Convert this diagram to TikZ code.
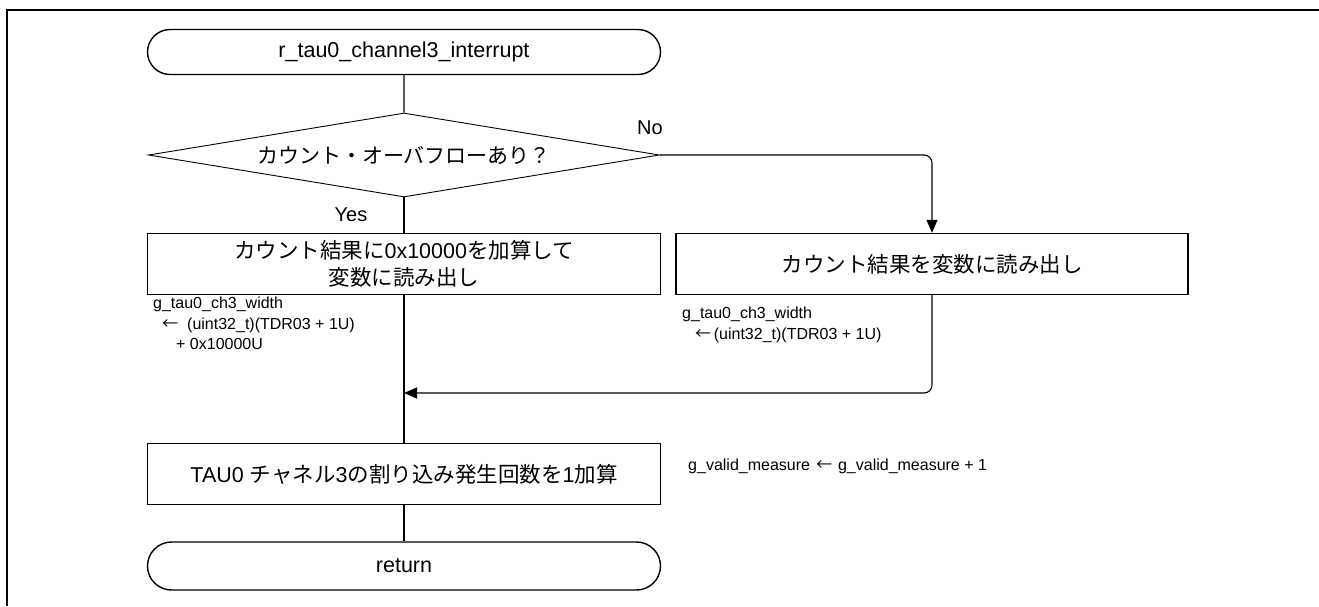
\documentclass[tikz,border=0pt]{standalone}
\usepackage{fontspec}
\setmainfont{Liberation Sans}
\newfontfamily\jp{Noto Sans CJK JP}
\usepackage{tikz}
\usetikzlibrary{shapes.geometric}
\usetikzlibrary{shapes.misc}
\usetikzlibrary{arrows.meta}

\begin{document}
\begin{tikzpicture}[x=1pt,y=-1pt,
	box/.style={draw,rectangle,line width=1.4pt,minimum width=513pt,minimum height=61pt,inner sep=0pt,align=center,font=\fontsize{21.5}{27}\selectfont},
	term/.style={draw,rounded rectangle,line width=1.4pt,minimum width=513pt,minimum height=45pt,inner sep=0pt,font=\fontsize{21.5}{27}\selectfont},
	decide/.style={draw,diamond,aspect=6,line width=0.9pt,minimum width=511pt,minimum height=84pt,inner sep=0pt,font=\fontsize{21}{27}\selectfont},
	note/.style={anchor=north west,inner sep=0pt,align=left,font=\fontsize{16}{20.5}\selectfont},
	flow/.style={line width=1.1pt},
	arr/.style={flow,-{Triangle[length=13pt,width=11pt]}}]
	\useasboundingbox (0,0) rectangle (1319,606);
	\draw[line width=2.2pt] (1319,10) -- (7,10) -- (7,606);

	\node (start) [term] at (404,52) {r\_tau0\_channel3\_interrupt};
	\node (check) [decide] at (404,155) {\jp カウント・オーバフローあり？};
	\node (addovf) [box] at (404,264) {{\jp カウント結果に}0x10000{\jp を加算して}\\{\jp 変数に読み出し}};
	\node (readcnt) [box,minimum width=512pt] at (932,264) {\jp カウント結果を変数に読み出し};
	\coordinate (merge) at (404,393);
	\node (count) [box] at (404,474) {TAU0 {\jp チャネル}3{\jp の割り込み発生回数を}1{\jp 加算}};
	\node (ret) [term,minimum height=48pt] at (404,566) {return};

	\node (nolabel) at (650,128) [font=\fontsize{20}{22}\selectfont] {No};
	\node (yeslabel) at (351,215) [font=\fontsize{20}{22}\selectfont] {Yes};

	\draw[flow] (start) -- (check);
	\draw[flow] (check) -- (addovf);
	\draw[arr,rounded corners=8pt] (check.east) -| (readcnt.north);
	\draw[flow] (addovf) -- (count);
	\draw[arr,rounded corners=8pt] (readcnt.south) |- (merge);
	\draw[flow] (count) -- (ret);

	% code notes
	\node (ovfnote) [note] at (153,297) {g\_tau0\_ch3\_width\\\hspace*{9pt}{\jp ←}\hspace{9pt}(uint32\_t)(TDR03 + 1U)\\\hspace*{23pt}+ 0x10000U};
	\node (cntnote) [note] at (682,307) {g\_tau0\_ch3\_width\\\hspace*{13pt}{\jp ←}\,(uint32\_t)(TDR03 + 1U)};
	\node (incnote) [note,anchor=west] at (688,466) {g\_valid\_measure\hspace{6pt}{\jp ←}\hspace{6pt}g\_valid\_measure + 1};

\end{tikzpicture}
\end{document}
